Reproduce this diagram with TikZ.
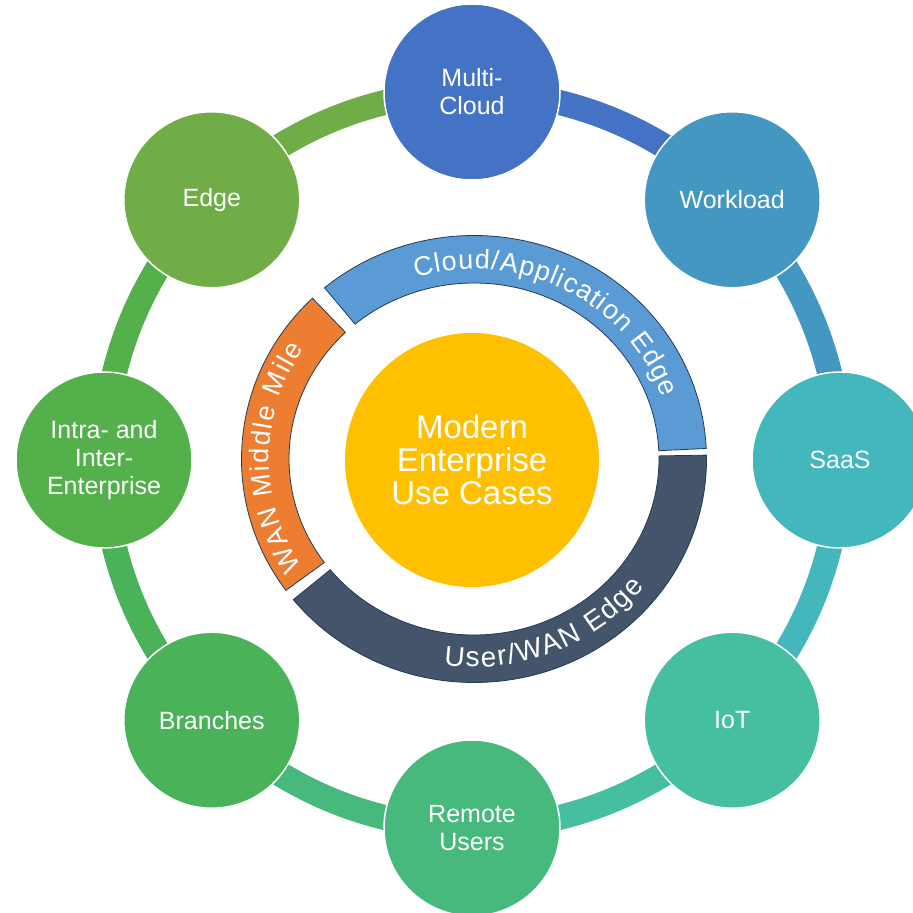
\documentclass[tikz,border=0pt]{standalone}
\usepackage{fontspec}
\setmainfont{Liberation Sans}
\usetikzlibrary{decorations.text,calc}
\pgfdeclarelayer{background}
\pgfsetlayers{background,main}
\definecolor{cMC}{HTML}{4472C4}
\definecolor{cWL}{HTML}{4397C0}
\definecolor{cSA}{HTML}{44B7BD}
\definecolor{cIO}{HTML}{45BFA0}
\definecolor{cRU}{HTML}{48B97C}
\definecolor{cBR}{HTML}{4AB35A}
\definecolor{cIE}{HTML}{53B04B}
\definecolor{cED}{HTML}{70AD47}
\definecolor{cCore}{HTML}{FFC000}
\definecolor{cBlue}{HTML}{5B9BD5}
\definecolor{cDark}{HTML}{44546A}
\definecolor{cOrange}{HTML}{ED7D31}
\definecolor{segline}{HTML}{223A58}
\begin{document}
\begin{tikzpicture}[x=1pt,y=1pt,
  usecase/.style={circle, minimum size=176pt, inner sep=0pt, draw=white, line width=1.5pt,
    text=white, align=center, font=\fontsize{25}{28}\selectfont},
  link/.style={line width=25pt},
  seg/.style={draw=segline, line width=0.8pt},
  arctext/.style={decorate, decoration={text along path, text align=fit to path, text color=white, text={#1}}}]
\useasboundingbox (0,0) rectangle (913,913);
\clip (0,0) rectangle (913,913);
\coordinate (O) at (472,453);
\coordinate (C) at (474,454);
% outer use-case circles
\node[usecase, fill=cMC] (mc) at ($(O)+(90:368)$) {Multi-\\Cloud};
\node[usecase, fill=cWL] (wl) at ($(O)+(45:368)$) {Workload};
\node[usecase, fill=cSA] (sa) at ($(O)+(0:368)$) {SaaS};
\node[usecase, fill=cIO] (io) at ($(O)+(-45:368)$) {IoT};
\node[usecase, fill=cRU] (ru) at ($(O)+(-90:368)$) {Remote\\Users};
\node[usecase, fill=cBR] (br) at ($(O)+(-135:368)$) {Branches};
\node[usecase, fill=cIE] (ie) at ($(O)+(180:368)$) {Intra- and\\Inter-\\Enterprise};
\node[usecase, fill=cED] (ed) at ($(O)+(135:368)$) {Edge};
% connecting ring
\begin{pgfonlayer}{background}
\fill[white] (0,0) rectangle (913,913);
\draw[link, cMC] (mc.center) arc[start angle=90, end angle=45, radius=368];
\draw[link, cWL] (wl.center) arc[start angle=45, end angle=0, radius=368];
\draw[link, cSA] (sa.center) arc[start angle=0, end angle=-45, radius=368];
\draw[link, cIO] (io.center) arc[start angle=-45, end angle=-90, radius=368];
\draw[link, cRU] (ru.center) arc[start angle=-90, end angle=-135, radius=368];
\draw[link, cBR] (br.center) arc[start angle=-135, end angle=-180, radius=368];
\draw[link, cIE] (ie.center) arc[start angle=180, end angle=135, radius=368];
\draw[link, cED] (ed.center) arc[start angle=135, end angle=90, radius=368];
\end{pgfonlayer}
% inner ring segments
\draw[seg, fill=cBlue] ($(C)+(130:232.5 and 223.5)$) arc[start angle=130, end angle=2.7, x radius=232.5, y radius=223.5]
  -- ($(C)+(2.7:185 and 176)$) arc[start angle=2.7, end angle=130, x radius=185, y radius=176] -- cycle;
\draw[seg, fill=cDark] ($(C)+(1:232.5 and 223.5)$) arc[start angle=1, end angle=-141, x radius=232.5, y radius=223.5]
  -- ($(C)+(-141:185 and 176)$) arc[start angle=-141, end angle=1, x radius=185, y radius=176] -- cycle;
\draw[seg, fill=cOrange] ($(C)+(-144:232.5 and 223.5)$) arc[start angle=-144, end angle=-226, x radius=232.5, y radius=223.5]
  -- ($(C)+(-226:185 and 176)$) arc[start angle=-226, end angle=-144, x radius=185, y radius=176] -- cycle;
% arc labels
\path[arctext={|\fontsize{27}{27}\selectfont|Cloud/Application Edge}]
  ($(C)+(107:199 and 190)$) arc[start angle=107, end angle=19, x radius=199, y radius=190];
\path[arctext={|\fontsize{28}{28}\selectfont|User/WAN Edge}]
  ($(C)+(-98:216 and 208)$) arc[start angle=-98, end angle=-38, x radius=216, y radius=208];
\path[arctext={|\fontsize{27}{27}\selectfont|WAN Middle Mile}]
  ($(C)+(213:205 and 197)$) arc[start angle=213, end angle=146, x radius=205, y radius=197];
% core
\node[circle, fill=cCore, minimum size=254pt, inner sep=0pt, text=white, align=center,
  font=\fontsize{33}{33}\selectfont] (core) at (472,453) {Modern\\Enterprise\\Use Cases};
\end{tikzpicture}
\end{document}
